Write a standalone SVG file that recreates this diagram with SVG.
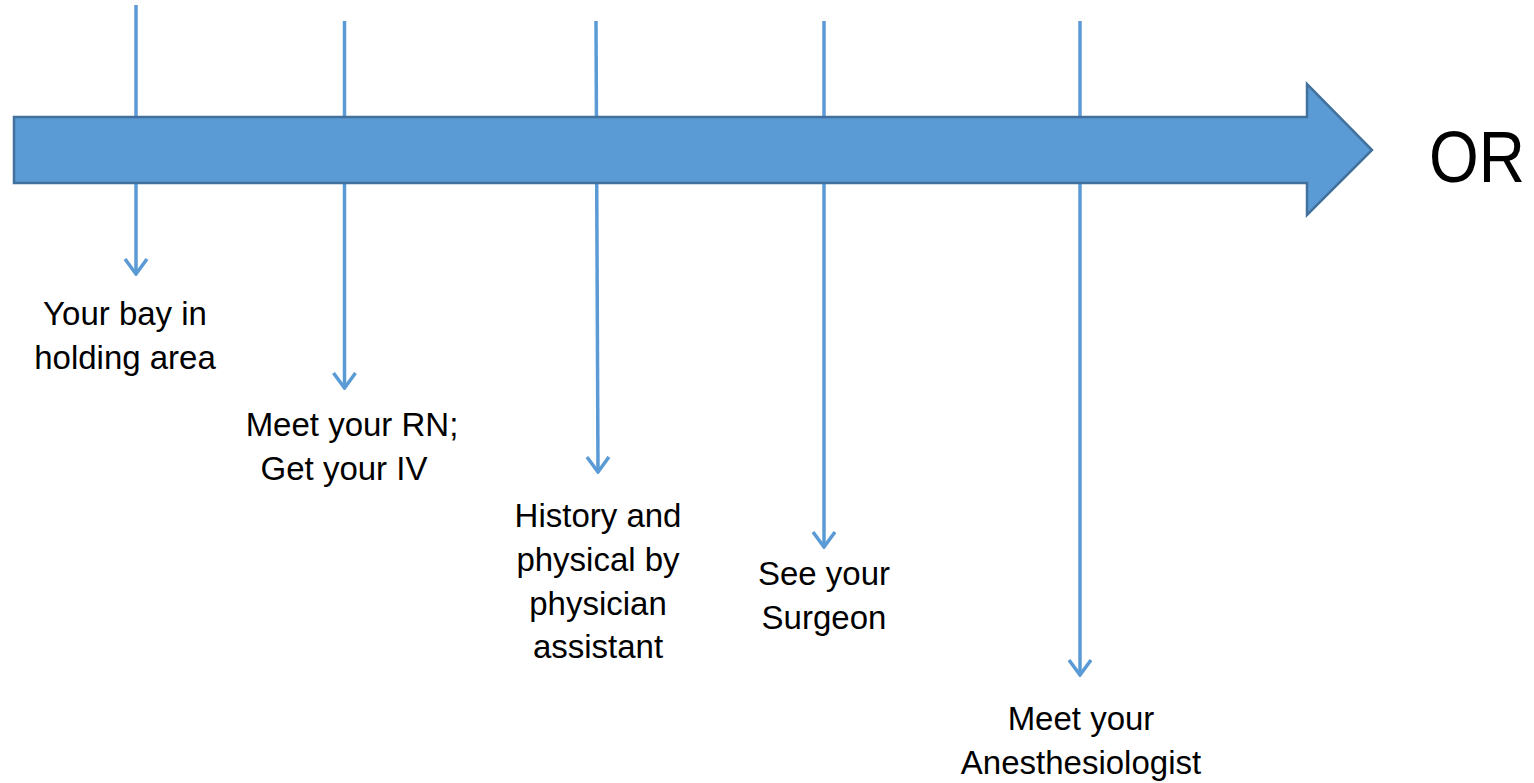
<svg xmlns="http://www.w3.org/2000/svg" width="1534" height="783" viewBox="0 0 1534 783">
<defs>
<style>
.conn{stroke:#5B9BD5;stroke-width:3.5;fill:none;stroke-linecap:butt;stroke-linejoin:miter}
.lbl{font-family:"Liberation Sans",Arial,sans-serif;font-size:33px;fill:#000;text-anchor:middle}
.big{fill:#5B9BD5;stroke:#41719C;stroke-width:2.5}
</style>
<marker id="vhead" viewBox="0 0 18 26" refX="16" refY="13" markerWidth="18" markerHeight="26" markerUnits="userSpaceOnUse" orient="auto">
<path d="M1,2 L16,13 L1,24" fill="none" stroke="#5B9BD5" stroke-width="3.5"/>
</marker>
</defs>
<rect width="1534" height="783" fill="#fff"/>
<g id="connectors">
<line class="conn" x1="136" y1="5" x2="136" y2="274" marker-end="url(#vhead)"/>
<line class="conn" x1="344.5" y1="21" x2="344.5" y2="388" marker-end="url(#vhead)"/>
<line class="conn" x1="596" y1="21" x2="598" y2="472" marker-end="url(#vhead)"/>
<line class="conn" x1="824" y1="21" x2="824" y2="547" marker-end="url(#vhead)"/>
<line class="conn" x1="1080" y1="21" x2="1080" y2="675" marker-end="url(#vhead)"/>
</g>
<g id="timeline">
<path class="big" d="M14,117 L1307,117 L1307,84 L1372,150 L1307,215 L1307,183 L14,183 Z"/>
</g>
<g id="or">
<text x="1429" y="182" font-family="'Liberation Sans',Arial,sans-serif" font-size="72" textLength="96" lengthAdjust="spacingAndGlyphs">OR</text>
</g>
<g id="node1">
<text class="lbl" x="125" y="325">Your bay in</text>
<text class="lbl" x="125" y="369">holding area</text>
</g>
<g id="node2">
<text class="lbl" x="352" y="436">Meet your RN;</text>
<text class="lbl" x="344" y="480">Get your IV</text>
</g>
<g id="node3">
<text class="lbl" x="598" y="527">History and</text>
<text class="lbl" x="598" y="571">physical by</text>
<text class="lbl" x="598" y="615">physician</text>
<text class="lbl" x="598" y="658">assistant</text>
</g>
<g id="node4">
<text class="lbl" x="824" y="585">See your</text>
<text class="lbl" x="824" y="629">Surgeon</text>
</g>
<g id="node5">
<text class="lbl" x="1081" y="730">Meet your</text>
<text class="lbl" x="1081" y="774">Anesthesiologist</text>
</g>
</svg>
